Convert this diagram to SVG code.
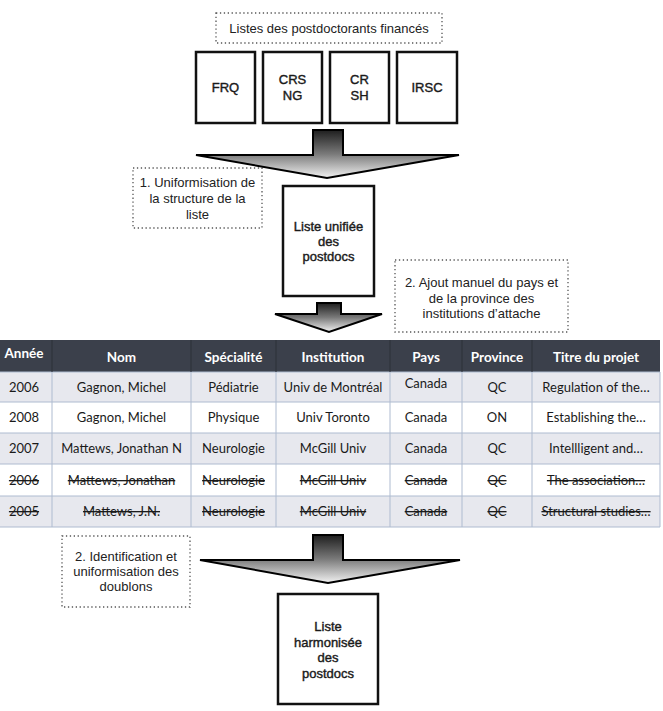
<svg xmlns="http://www.w3.org/2000/svg" width="663" height="711" viewBox="0 0 663 711">
<defs>
<linearGradient id="ag" x1="0" y1="0" x2="0" y2="1">
<stop offset="0" stop-color="#1e1e1e"/>
<stop offset="0.5" stop-color="#7a7a7a"/>
<stop offset="1" stop-color="#f2f2f2"/>
</linearGradient>
<style>
.box{fill:#fff;stroke:#111;stroke-width:2.5}
.dot{fill:#fff;stroke:#555;stroke-width:1.3;stroke-dasharray:1.3 2.6}
.t{font-family:"Liberation Sans",Arial,sans-serif;font-size:13px;fill:#222;text-anchor:middle}
.tb{font-family:"Liberation Sans",Arial,sans-serif;font-size:13px;fill:#1a1a1a;stroke:#1a1a1a;stroke-width:0.4;text-anchor:middle}
.arrow{fill:url(#ag);stroke:#000;stroke-width:2;stroke-linejoin:miter}
.th{font-family:Lato,"Open Sans",sans-serif;font-size:13.5px;font-weight:bold;fill:#fff;text-anchor:middle}
.td{font-family:Lato,"Open Sans",sans-serif;font-size:13px;fill:#1a1a1a;text-anchor:middle}
.st{text-decoration:line-through}
.odd{fill:#e7e8ee}
.even{fill:#fff}
.gl{stroke:#aebbd0;stroke-width:1}
</style>
</defs>

<g id="label-listes">
<rect class="dot" x="216" y="13" width="226" height="30"/>
<text class="t" x="329" y="33">Listes des postdoctorants financés</text>
</g>
<g id="node-frq">
<rect class="box" x="196" y="52" width="59" height="71"/>
<text class="tb" x="225.5" y="92">FRQ</text>
</g>
<g id="node-crsng">
<rect class="box" x="263" y="52" width="59" height="71"/>
<text class="tb" x="292.5" y="84">CRS</text>
<text class="tb" x="292.5" y="100">NG</text>
</g>
<g id="node-crsh">
<rect class="box" x="330" y="52" width="59" height="71"/>
<text class="tb" x="359.5" y="84">CR</text>
<text class="tb" x="359.5" y="100">SH</text>
</g>
<g id="node-irsc">
<rect class="box" x="397" y="52" width="60" height="71"/>
<text class="tb" x="427" y="92">IRSC</text>
</g>

<g id="label-step1">
<rect class="dot" x="133" y="168" width="129" height="60"/>
<text class="t" x="197.5" y="187">1. Uniformisation de</text>
<text class="t" x="197.5" y="203">la structure de la</text>
<text class="t" x="197.5" y="219">liste</text>
</g>
<g id="node-unifiee">
<rect class="box" x="283" y="186" width="91" height="110"/>
<text class="tb" x="328.5" y="231">Liste unifiée</text>
<text class="tb" x="328.5" y="246">des</text>
<text class="tb" x="328.5" y="261">postdocs</text>
</g>

<g id="label-step2">
<rect class="dot" x="395" y="260" width="173" height="72"/>
<text class="t" x="481.5" y="287">2. Ajout manuel du pays et</text>
<text class="t" x="481.5" y="303">de la province des</text>
<text class="t" x="481.5" y="318">institutions d’attache</text>
</g>

<g id="table">
<rect x="0" y="340" width="660" height="32" fill="#3b404b"/>
<rect class="odd" x="0" y="372" width="660" height="30"/>
<rect class="even" x="0" y="402" width="660" height="31"/>
<rect class="odd" x="0" y="433" width="660" height="31"/>
<rect class="even" x="0" y="464" width="660" height="32"/>
<rect class="odd" x="0" y="496" width="660" height="31"/>
<g class="gl">
<line x1="0" y1="372" x2="660" y2="372"/>
<line x1="0" y1="402" x2="660" y2="402"/>
<line x1="0" y1="433" x2="660" y2="433"/>
<line x1="0" y1="464" x2="660" y2="464"/>
<line x1="0" y1="496" x2="660" y2="496"/>
<line x1="0" y1="527" x2="660" y2="527"/>
<line x1="52" y1="372" x2="52" y2="527"/>
<line x1="191" y1="372" x2="191" y2="527"/>
<line x1="276" y1="372" x2="276" y2="527"/>
<line x1="390" y1="372" x2="390" y2="527"/>
<line x1="462" y1="372" x2="462" y2="527"/>
<line x1="532" y1="372" x2="532" y2="527"/>
<line x1="660" y1="372" x2="660" y2="527"/>
</g>
<g stroke="#2c3038" stroke-width="1">
<line x1="52" y1="340" x2="52" y2="372"/>
<line x1="191" y1="340" x2="191" y2="372"/>
<line x1="276" y1="340" x2="276" y2="372"/>
<line x1="390" y1="340" x2="390" y2="372"/>
<line x1="462" y1="340" x2="462" y2="372"/>
<line x1="532" y1="340" x2="532" y2="372"/>
</g>
<text class="th" x="24" y="358">Année</text>
<text class="th" x="121.5" y="362">Nom</text>
<text class="th" x="233.5" y="362">Spécialité</text>
<text class="th" x="333" y="362">Institution</text>
<text class="th" x="426" y="362">Pays</text>
<text class="th" x="497" y="362">Province</text>
<text class="th" x="596" y="362">Titre du projet</text>

<text class="td" x="24" y="392">2006</text>
<text class="td" x="121.5" y="392">Gagnon, Michel</text>
<text class="td" x="233.5" y="392">Pédiatrie</text>
<text class="td" x="333" y="392">Univ de Montréal</text>
<text class="td" x="426" y="388">Canada</text>
<text class="td" x="497" y="392">QC</text>
<text class="td" x="596" y="392">Regulation of the…</text>

<text class="td" x="24" y="422">2008</text>
<text class="td" x="121.5" y="422">Gagnon, Michel</text>
<text class="td" x="233.5" y="422">Physique</text>
<text class="td" x="333" y="422">Univ Toronto</text>
<text class="td" x="426" y="422">Canada</text>
<text class="td" x="497" y="422">ON</text>
<text class="td" x="596" y="422">Establishing the…</text>

<text class="td" x="24" y="453">2007</text>
<text class="td" x="121.5" y="453">Mattews, Jonathan N</text>
<text class="td" x="233.5" y="453">Neurologie</text>
<text class="td" x="333" y="453">McGill Univ</text>
<text class="td" x="426" y="453">Canada</text>
<text class="td" x="497" y="453">QC</text>
<text class="td" x="596" y="453">Intellligent and…</text>

<text class="td st" x="24" y="485">2006</text>
<text class="td st" x="121.5" y="485">Mattews, Jonathan</text>
<text class="td st" x="233.5" y="485">Neurologie</text>
<text class="td st" x="333" y="485">McGill Univ</text>
<text class="td st" x="426" y="485">Canada</text>
<text class="td st" x="497" y="485">QC</text>
<text class="td st" x="596" y="485">The association…</text>

<text class="td st" x="24" y="516">2005</text>
<text class="td st" x="121.5" y="516">Mattews, J.N.</text>
<text class="td st" x="233.5" y="516">Neurologie</text>
<text class="td st" x="333" y="516">McGill Univ</text>
<text class="td st" x="426" y="516">Canada</text>
<text class="td st" x="497" y="516">QC</text>
<text class="td st" x="596" y="516">Structural studies…</text>
</g>

<g id="label-step3">
<rect class="dot" x="62" y="536" width="128" height="71"/>
<text class="t" x="126" y="561">2. Identification et</text>
<text class="t" x="126" y="576">uniformisation des</text>
<text class="t" x="126" y="591">doublons</text>
</g>
<g id="node-harmonisee">
<rect class="box" x="278" y="594" width="100" height="110"/>
<text class="tb" x="328" y="631">Liste</text>
<text class="tb" x="328" y="647">harmonisée</text>
<text class="tb" x="328" y="662">des</text>
<text class="tb" x="328" y="678">postdocs</text>
</g>

<g id="connectors">
<path class="arrow" d="M313,130 H343 V155 H459 L327,178 L196,155 H313 Z"/>
<path class="arrow" d="M317,303 H341 V314 H382 L329,332 L275,314 H317 Z"/>
<path class="arrow" d="M313,535 H343 V560 H460 L328,583 L200,560 H313 Z"/>
</g>
</svg>
